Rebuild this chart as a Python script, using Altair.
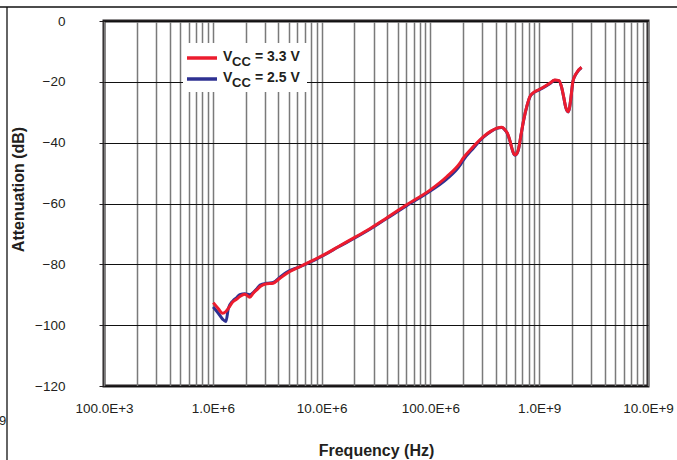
import altair as alt
import pandas as pd

# ---- data ----
FREQ_HZ = [1.01e6, 1.12e6, 1.23e6, 1.32e6, 1.39e6, 1.53e6, 1.65e6, 1.77e6, 1.97e6,
           2.19e6, 2.35e6, 2.55e6, 2.72e6, 3.12e6, 3.59e6, 4.14e6, 4.77e6, 6.3e6,
           8.4e6, 11.1e6, 14.2e6, 19.6e6, 28e6, 39e6, 60e6, 99e6, 141e6, 186e6,
           200e6, 248e6, 307e6, 360e6, 408e6, 454e6, 480e6, 510e6, 540e6, 561e6,
           585e6, 602e6, 625e6, 646e6, 680e6, 720e6, 770e6, 820e6, 880e6, 950e6,
           1.09e9, 1.25e9, 1.39e9, 1.52e9, 1.60e9, 1.68e9, 1.75e9, 1.85e9, 1.90e9,
           1.96e9, 2.04e9, 2.19e9, 2.45e9]
ATT_33V = [-92.6, -94.5, -96.1, -95.5, -94.5, -92.3, -91.5, -90.6, -89.8,
           -90.8, -89.5, -88.3, -87.3, -86.4, -86.2, -84.6, -83.0, -80.8,
           -78.6, -76.4, -74.2, -71.4, -68.2, -64.9, -60.5, -55.6, -51.2, -46.8,
           -45.1, -41.3, -38.0, -36.2, -35.2, -34.9, -35.6, -36.9, -39.5, -41.8,
           -43.7, -44.0, -43.5, -42.0, -37.5, -32.5, -28.0, -24.9, -23.6, -22.9,
           -21.8, -20.5, -19.4, -19.6, -21.5, -25.0, -28.2, -29.8, -28.5,
           -25.0, -19.9, -17.2, -15.2]
ATT_25V = [-94.0, -96.0, -98.0, -98.8, -94.5, -92.0, -91.0, -90.0, -89.7,
           -90.0, -89.3, -88.0, -86.8, -86.2, -86.0, -84.2, -82.6, -80.8,
           -78.8, -76.5, -74.3, -71.6, -68.4, -65.1, -60.8, -56.0, -52.0, -47.6,
           -45.8, -41.8, -38.2, -36.3, -35.3, -35.0, -35.7, -37.0, -39.6, -41.9,
           -43.8, -44.1, -43.6, -42.1, -37.6, -32.6, -28.1, -25.0, -23.7, -23.0,
           -21.9, -20.6, -19.5, -19.7, -21.6, -25.1, -28.3, -29.9, -28.6,
           -25.1, -20.0, -17.3, -15.3]

SERIES = ["3.3 V", "2.5 V"]
COLORS = ["#ec1c2e", "#2e3192"]

X_DECADES = [1e5, 1e6, 1e7, 1e8, 1e9, 1e10]
X_LABELS = ["100.0E+3", "1.0E+6", "10.0E+6", "100.0E+6", "1.0E+9", "10.0E+9"]
GRID_MULT = [1, 2, 3, 4, 5, 6, 7, 8, 9]
Y_TICKS = [-120, -100, -80, -60, -40, -20, 0]

FONT = "Liberation Sans"
INK = "#231f20"

df33 = pd.DataFrame({"f": FREQ_HZ, "v": ATT_33V})
df25 = pd.DataFrame({"f": FREQ_HZ, "v": ATT_25V})

x_grid_values = [d * m for d in X_DECADES[:-1] for m in GRID_MULT] + [X_DECADES[-1]]
label_expr = " : ".join(
    f"datum.value == {int(d)} ? '{lab}'" for d, lab in zip(X_DECADES, X_LABELS)
) + " : ''"

x_enc = alt.X(
    "f:Q",
    scale=alt.Scale(type="log", domain=[X_DECADES[0], X_DECADES[-1]], nice=False),
    axis=alt.Axis(
        values=x_grid_values, labelExpr=label_expr, ticks=False, domain=False,
        grid=True, gridColor="#7a7a7a", gridWidth=1.5, labelOverlap=False,
        labelBound=False, labelFlush=False, labelFont=FONT, labelFontSize=13.5,
        labelColor=INK, labelPadding=15, title="Frequency (Hz)", titleFont=FONT,
        titleFontSize=16, titleFontWeight="bold", titleColor=INK,
        titleY=64, titleBaseline="middle",
    ),
)
y_enc = alt.Y(
    "v:Q",
    scale=alt.Scale(domain=[-120, 0], nice=False),
    axis=alt.Axis(
        values=Y_TICKS, labelExpr="datum.value < 0 ? '\u2212' + abs(datum.value) : datum.value",
        domain=False, grid=True, gridColor="#111111", gridWidth=1.2,
        ticks=True, tickSize=5, tickColor=INK, tickWidth=1,
        labelFont=FONT, labelFontSize=13.5, labelColor=INK, labelPadding=34,
        title="Attenuation (dB)", titleFont=FONT, titleFontSize=16,
        titleFontWeight="bold", titleColor=INK, titleX=-86, titleY=168,
        titleAlign="center", titleBaseline="middle", titleAngle=270,
    ),
)

line25 = alt.Chart(df25).mark_line(color=COLORS[1], strokeWidth=3, interpolate="monotone").encode(x=x_enc, y=y_enc)
line33 = alt.Chart(df33).mark_line(color=COLORS[0], strokeWidth=3, interpolate="monotone").encode(x="f:Q", y="v:Q")

dummy = pd.DataFrame({"k": [0]})
base = alt.Chart(dummy)

legend_box = base.mark_rect(color="white").encode(
    x=alt.value(79), x2=alt.value(203), y=alt.value(22), y2=alt.value(71))

layers = [line25, line33, legend_box]
for i, (name, col) in enumerate(zip(SERIES, COLORS)):
    dy = 21 * i
    layers.append(base.mark_rule(color=col, strokeWidth=3.5).encode(
        x=alt.value(83), x2=alt.value(113), y=alt.value(37 + dy)))
    layers.append(base.mark_text(align="left", baseline="alphabetic", font=FONT,
                                 fontSize=14, fontWeight="bold", color=INK).encode(
        x=alt.value(119), y=alt.value(40 + dy), text=alt.value("V")))
    layers.append(base.mark_text(align="left", baseline="alphabetic", font=FONT,
                                 fontSize=13, fontWeight="bold", color=INK).encode(
        x=alt.value(128), y=alt.value(45 + dy), text=alt.value("CC")))
    layers.append(base.mark_text(align="left", baseline="alphabetic", font=FONT,
                                 fontSize=14, fontWeight="bold", color=INK).encode(
        x=alt.value(151), y=alt.value(40 + dy), text=alt.value("= " + name)))

# page frame lines and stray edge glyph visible in the reference crop
layers.append(base.mark_rule(color="#111111", strokeWidth=1.3).encode(
    x=alt.value(-104), x2=alt.value(573), y=alt.value(-14)))
layers.append(base.mark_rule(color="#111111", strokeWidth=1.3).encode(
    x=alt.value(-97), y=alt.value(-14), y2=alt.value(439)))
layers.append(base.mark_text(align="left", baseline="middle", font=FONT,
                             fontSize=13, color=INK).encode(
    x=alt.value(-105), y=alt.value(400), text=alt.value("9")))

chart = alt.layer(*layers).properties(
    width=544, height=365,
    autosize=alt.AutoSizeParams(type="none"),
    padding={"left": 104, "top": 21, "right": 29, "bottom": 74},
    background="white",
).configure_view(stroke=INK, strokeWidth=3)

chart.save("out.html", embed_options={"renderer": "svg", "actions": False})
